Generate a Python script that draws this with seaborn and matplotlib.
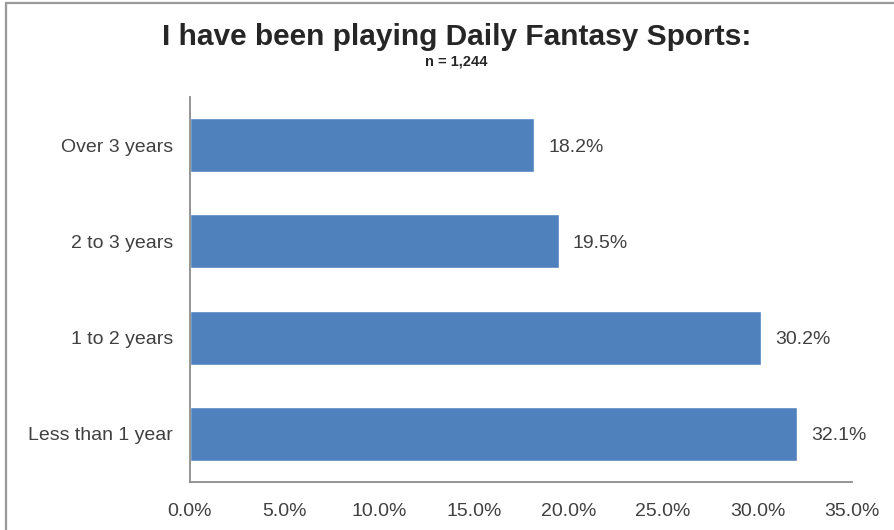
import matplotlib
matplotlib.use("Agg")
import matplotlib.pyplot as plt
from matplotlib.patches import Rectangle
from matplotlib.ticker import FuncFormatter, MultipleLocator
import seaborn as sns
import pandas as pd

# Survey responses: how long respondents have played Daily Fantasy Sports
categories = ["Over 3 years", "2 to 3 years", "1 to 2 years", "Less than 1 year"]
shares = [18.2, 19.5, 30.2, 32.1]
title = "I have been playing Daily Fantasy Sports:"
subtitle = "n = 1,244"

df = pd.DataFrame({"duration": categories, "share": shares})

sns.set_theme(style="white")
plt.rcParams["font.family"] = ["Liberation Sans", "DejaVu Sans"]

W, H = 894, 530
fig = plt.figure(figsize=(W / 100, H / 100), dpi=100)
ax = fig.add_axes([190 / W, (H - 482) / H, (852 - 190) / W, (482 - 97) / H])

bar_color = "#4F81BD"
text_color = "#404040"
axis_color = "#8C8C8C"

sns.barplot(data=df, x="share", y="duration", order=categories,
            color=bar_color, saturation=1, width=0.56, orient="h", ax=ax)

ax.set_xlim(0, 35)
ax.xaxis.set_major_locator(MultipleLocator(5))
ax.xaxis.set_major_formatter(FuncFormatter(lambda v, _: f"{v:.1f}%"))
ax.set_xlabel("")
ax.set_ylabel("")

for s in ["top", "right"]:
    ax.spines[s].set_visible(False)
for s in ["left", "bottom"]:
    ax.spines[s].set_color(axis_color)
    ax.spines[s].set_linewidth(1.3)

ax.tick_params(axis="x", length=0, pad=15, labelsize=14, labelcolor=text_color)
ax.tick_params(axis="y", length=0, pad=12, labelsize=14, labelcolor=text_color)

for patch, val in zip(ax.patches, shares):
    y = patch.get_y() + patch.get_height() / 2
    ax.annotate(f"{val:.1f}%", xy=(patch.get_width(), y), xytext=(10, -1.5),
                textcoords="offset points", ha="left", va="center",
                fontsize=14, color=text_color)

# Titles
fig.text(457 / W, 1 - 37 / H, title, ha="center", va="center",
         fontsize=21.5, fontweight="bold", color="#262626")
fig.text(456 / W, 1 - 61 / H, subtitle, ha="center", va="center",
         fontsize=10.5, fontweight="bold", color="#262626")

# Chart frame
fig.patches.append(Rectangle((5.5 / W, -0.1), 1.0, 1.1 - 2.5 / H,
                             transform=fig.transFigure, fill=False,
                             edgecolor="#9A9A9A", linewidth=1.6))

fig.savefig("out.png", dpi=100, facecolor="white")
